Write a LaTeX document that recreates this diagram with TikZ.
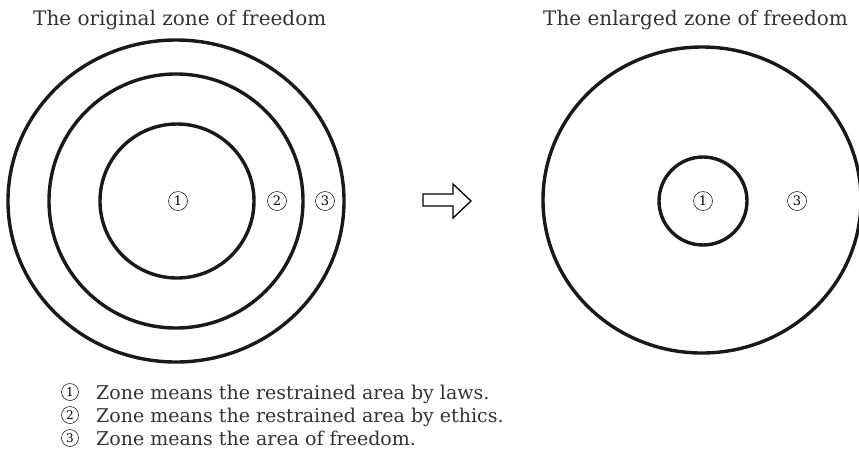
\documentclass[tikz,border=0pt]{standalone}
\usepackage{fontspec}
\setmainfont{DejaVu Serif}
\begin{document}
\begin{tikzpicture}[x=1pt,y=-1pt,
  ring/.style={draw=black!90,line width=3.4pt},
  circnum/.style={circle,draw,line width=0.5pt,inner sep=0pt,minimum size=19pt,font=\fontsize{13}{14}\selectfont},
  keynum/.style={circnum,minimum size=17pt,font=\fontsize{12}{13}\selectfont},
  lbl/.style={font=\fontsize{20}{23}\selectfont,text=black!80,inner sep=0pt},
  keytext/.style={lbl,font=\fontsize{19}{22}\selectfont,anchor=base west}]
\useasboundingbox (0,0) rectangle (859,456);
\clip (0,0) rectangle (859,456);
% titles
\node[lbl,anchor=base west] (t1) at (33,25) {The original zone of freedom};
\node[lbl,anchor=base west] (t2) at (543,25) {The enlarged zone of freedom};
% left rings
\draw[ring] (176,201) ellipse [x radius=168,y radius=161];
\draw[ring] (176,201) circle [radius=127];
\draw[ring] (177,201) circle [radius=77];
\node[circnum] (l1) at (178,201) {1};
\node[circnum] (l2) at (277,201) {2};
\node[circnum] (l3) at (325,201) {3};
% arrow
\draw[line width=1.3pt,line join=miter] (423,194) -- (453,194) -- (453,184) -- (471,201) -- (453,218) -- (453,206) -- (423,206) -- cycle;
% right rings
\draw[ring] (702,200) ellipse [x radius=159,y radius=153];
\draw[ring] (703,201) circle [radius=44];
\node[circnum] (r1) at (703,201) {1};
\node[circnum] (r3) at (797,201) {3};
% legend
\node[keytext] (e1) at (96,399) {Zone means the restrained area by laws.};
\node[keytext] (e2) at (96,422) {Zone means the restrained area by ethics.};
\node[keytext] (e3) at (96,445) {Zone means the area of freedom.};
\node[keynum] (k1) at ([xshift=-26pt,yshift=7pt]e1.base west) {1};
\node[keynum] (k2) at ([xshift=-26pt,yshift=7pt]e2.base west) {2};
\node[keynum] (k3) at ([xshift=-26pt,yshift=7pt]e3.base west) {3};
\end{tikzpicture}
\end{document}
